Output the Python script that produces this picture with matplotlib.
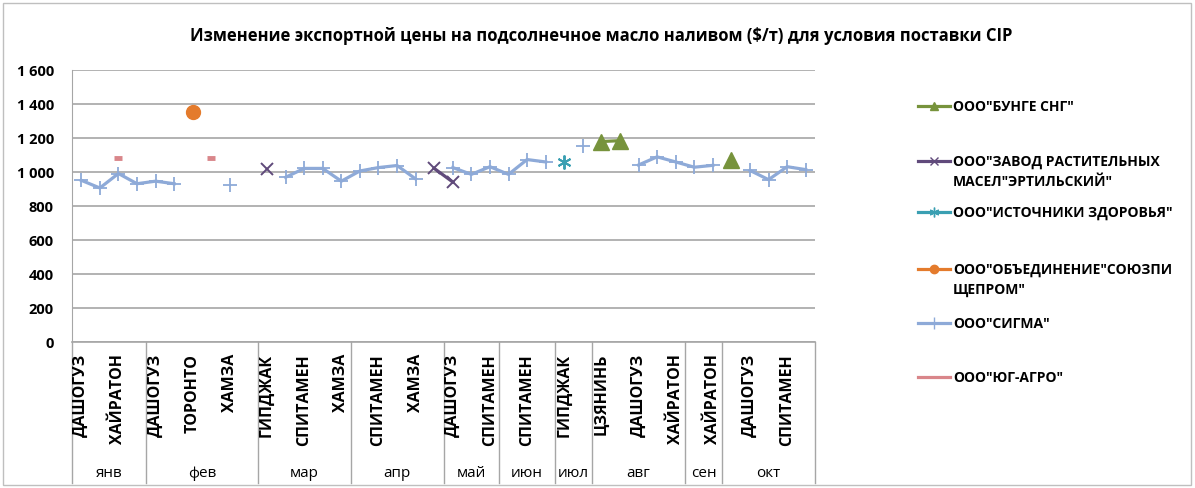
import numpy as np
import matplotlib.pyplot as plt
from matplotlib.lines import Line2D
from matplotlib.patches import Rectangle
from matplotlib.ticker import FuncFormatter

plt.rcParams['font.family'] = ['Open Sans', 'DejaVu Sans']

nan = np.nan

# Категории (подписаны только чётные, как в оригинале)
cat_labels = ["ДАШОГУЗ", "", "ХАЙРАТОН", "", "ДАШОГУЗ", "", "ТОРОНТО", "", "ХАМЗА", "",
              "ГИПДЖАК", "", "СПИТАМЕН", "", "ХАМЗА", "", "СПИТАМЕН", "", "ХАМЗА", "",
              "ДАШОГУЗ", "", "СПИТАМЕН", "", "СПИТАМЕН", "", "ГИПДЖАК", "", "ЦЗЯНИНЬ", "",
              "ДАШОГУЗ", "", "ХАЙРАТОН", "", "ХАЙРАТОН", "", "ДАШОГУЗ", "", "СПИТАМЕН", ""]
months = ["янв", "фев", "мар", "апр", "май", "июн", "июл", "авг", "сен", "окт"]
month_sizes = [4, 6, 5, 5, 3, 3, 2, 5, 2, 5]

# Ряды ($/т)
sigma = [950, 905, 990, 930, 945, 930, nan, nan, 925, nan,
         nan, 968, 1020, 1020, 945, 1005, 1025, 1037, 958, nan,
         1025, 985, 1030, 985, 1072, 1058, nan, 1152, nan, nan,
         1040, 1088, 1058, 1027, 1038, nan, 1008, 954, 1030, 1013]
bunge = [nan] * 28 + [1178, 1183] + [nan] * 5 + [1068] + [nan] * 4
zavod = [nan] * 10 + [1017] + [nan] * 8 + [1020, 940] + [nan] * 19
istochniki = [nan] * 26 + [1060] + [nan] * 13
obedinenie = [nan] * 6 + [1350] + [nan] * 33
yug = [nan] * 2 + [1082] + [nan] * 4 + [1082] + [nan] * 32

W, H = 1195, 489
fig = plt.figure(figsize=(W / 100, H / 100), dpi=100)
ax = fig.add_axes([72 / W, 1 - 343 / H, (815 - 72) / W, (343 - 70.7) / H])

x = np.arange(len(sigma)) + 0.5
ax.plot(x, sigma, color='#8eaad8', lw=2.3, marker='+', ms=10, mew=1.3, zorder=3)
ax.plot(x, zavod, color='#604a7b', lw=2.3, marker='x', ms=9, mew=1.4, zorder=4)
ax.plot(x, istochniki, color='#3a9fb2', lw=2.3, marker=(6, 2, 0), ms=10, mew=1.4, zorder=4)
ax.plot(x, obedinenie, color='#e47b2c', lw=2.3, marker='o', ms=10, zorder=4)
ax.plot(x, bunge, color='#77933c', lw=2.3, marker='^', ms=11, zorder=4)
ax.plot(x, yug, color='#d9868a', lw=2.3, marker='_', ms=6, mew=3.5, zorder=4)

ax.set_xlim(0, len(sigma))
ax.set_ylim(0, 1600)
ax.set_yticks(np.arange(0, 1601, 200))
ax.yaxis.set_major_formatter(FuncFormatter(lambda v, p: f"{int(v):,}".replace(",", " ")))
ax.tick_params(axis='y', length=0, pad=13, labelsize=10.5)
for lab in ax.get_yticklabels():
    lab.set_fontweight('bold')
ax.set_xticks([])
ax.yaxis.grid(True, color='#a6a6a6', lw=1.2)
ax.set_axisbelow(True)
for s in ['top', 'right']:
    ax.spines[s].set_visible(False)
ax.spines['left'].set_color('#a6a6a6')
ax.spines['bottom'].set_color('#a6a6a6')
ax.spines['bottom'].set_linewidth(1.2)

# подписи категорий и месяцев
tr = ax.get_xaxis_transform()
for xi, lab in zip(x, cat_labels):
    if lab:
        ax.text(xi, -0.04, lab, rotation=90, ha='center', va='top', transform=tr,
                fontsize=11.5, fontweight='bold')
bounds = np.concatenate([[0], np.cumsum(month_sizes)])
for b in bounds:
    ax.plot([b, b], [0, -0.518], transform=tr, color='#a6a6a6', lw=1, clip_on=False)
for m, a, b in zip(months, bounds[:-1], bounds[1:]):
    ax.text((a + b) / 2, -0.481, m, ha='center', va='center', transform=tr, fontsize=11)

fig.text(601 / W, 1 - 36 / H,
         "Изменение экспортной цены на подсолнечное масло наливом ($/т) для условия поставки CIP",
         ha='center', va='center', fontsize=12, fontweight='bold')

# легенда
leg_names = ['ООО"БУНГЕ СНГ"', 'ООО"ЗАВОД РАСТИТЕЛЬНЫХ\nМАСЕЛ"ЭРТИЛЬСКИЙ"', 'ООО"ИСТОЧНИКИ ЗДОРОВЬЯ"',
             'ООО"ОБЪЕДИНЕНИЕ"СОЮЗПИ\nЩЕПРОМ"', 'ООО"СИГМА"', 'ООО"ЮГ-АГРО"']
leg_style = [('#77933c', '^', 6), ('#604a7b', 'x', 6), ('#3a9fb2', (6, 2, 0), 7),
             ('#e47b2c', 'o', 6), ('#8eaad8', '+', 8), ('#d9868a', '', 0)]
leg_y = [107, 162, 213, 270, 324, 378]
for name, (c, mk, ms), yy in zip(leg_names, leg_style, leg_y):
    fy = 1 - yy / H
    fig.add_artist(Line2D([918 / W, 950 / W], [fy, fy], color=c, lw=2.3, transform=fig.transFigure))
    if mk:
        fig.add_artist(Line2D([934 / W], [fy], color=c, marker=mk, ms=ms, mew=1, transform=fig.transFigure))
    for k, line in enumerate(name.split("\n")):
        fig.text(953 / W, 1 - (yy + 20 * k) / H, line, ha='left', va='center',
                 fontsize=10, fontweight='bold')

fig.add_artist(Rectangle((3 / W, 1 - 486 / H), 1188 / W, 482 / H, transform=fig.transFigure,
                         fill=False, ec='#bfbfbf', lw=1))

fig.savefig("out.png", dpi=100)
